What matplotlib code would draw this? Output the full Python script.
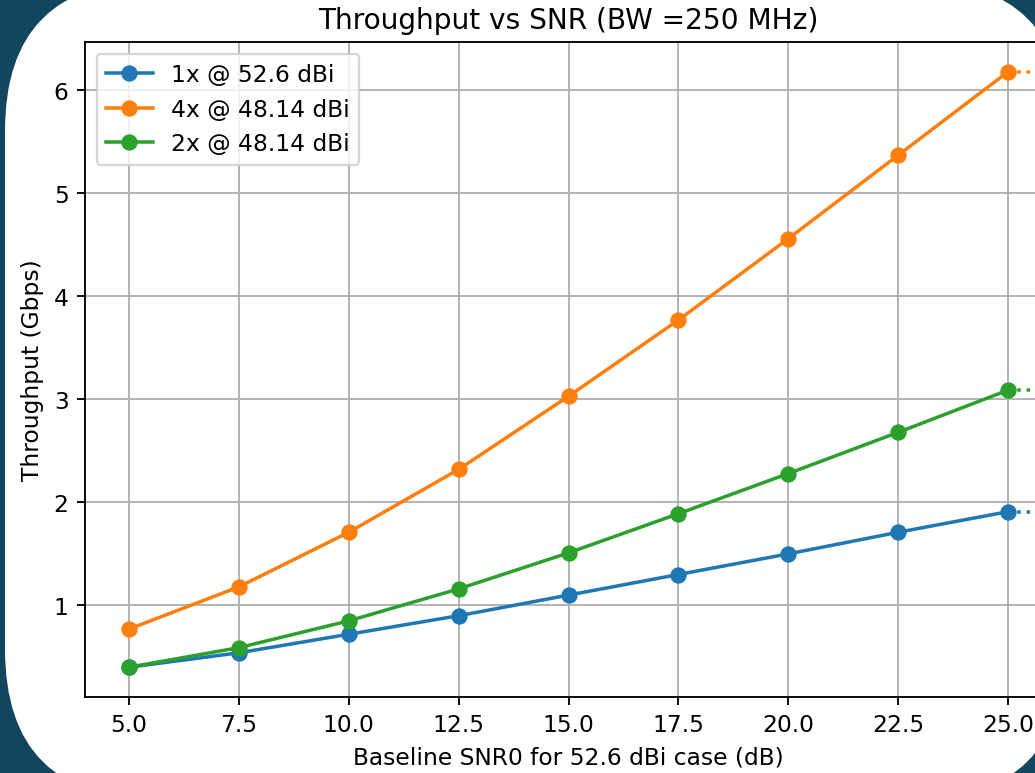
import matplotlib
matplotlib.use("Agg")
import matplotlib.pyplot as plt
from matplotlib.patches import FancyBboxPatch
from matplotlib.transforms import IdentityTransform

snr = [5.0, 7.5, 10.0, 12.5, 15.0, 17.5, 20.0, 22.5, 25.0]
tp_1x = [0.40, 0.54, 0.72, 0.90, 1.10, 1.30, 1.50, 1.71, 1.91]
tp_4x = [0.77, 1.18, 1.71, 2.32, 3.03, 3.77, 4.56, 5.37, 6.18]
tp_2x = [0.40, 0.59, 0.85, 1.16, 1.51, 1.89, 2.28, 2.68, 3.09]
labels = ["1x @ 52.6 dBi", "4x @ 48.14 dBi", "2x @ 48.14 dBi"]
colors = ["#1f77b4", "#ff7f0e", "#2ca02c"]

DPI = 168
W, H = 1035, 774
fig = plt.figure(figsize=(W / DPI, H / DPI), dpi=DPI)
fig.patch.set_facecolor("#12465f")

card = FancyBboxPatch((5, -26), 1060, 818, boxstyle="round,pad=0,rounding_size=150",
                      transform=IdentityTransform(), facecolor="white", edgecolor="none", zorder=0)
fig.add_artist(card)

ax = fig.add_axes([85 / W, 76 / H, (1052 - 85) / W, (731 - 76) / H])
ax.set_facecolor("white")

for y, lab, c in zip([tp_1x, tp_4x, tp_2x], labels, colors):
    ax.plot(snr, y, marker="o", color=c, label=lab)
ax.set_xlim(4, 26)
ax.set_xticks(snr)
for y, c in zip([tp_1x, tp_4x, tp_2x], colors):
    ax.plot([snr[-1], snr[-1] + 1.5], [y[-1], y[-1]], linestyle=":", color=c, clip_on=False)

ax.set_title("Throughput vs SNR (BW =250 MHz)")
ax.set_xlabel("Baseline SNR0 for 52.6 dBi case (dB)")
ax.set_ylabel("Throughput (Gbps)")
ax.grid(True)
ax.legend(loc="upper left")

fig.savefig("out.png", dpi=DPI, facecolor=fig.get_facecolor())
